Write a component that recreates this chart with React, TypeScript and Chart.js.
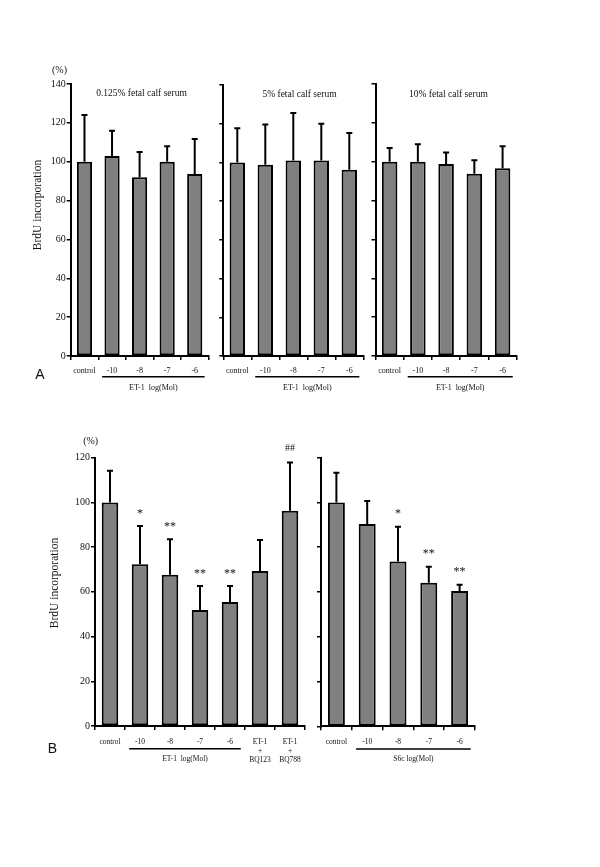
import React, { useEffect, useRef } from "react";
import { Chart, registerables } from "chart.js";

Chart.register(...registerables);

const SERIF = "'Liberation Serif', 'Times New Roman', serif";
const SANS = "'Liberation Sans', Arial, sans-serif";

// ---------- Panel A data ----------
const catsA = ["control", "-10", "-8", "-7", "-6"];
const meanA125 = [100, 103, 92, 100, 93.7];
const sdA125 = [24, 13, 13, 8, 18];
const meanA5 = [100, 98.8, 101, 101, 96.2];
const sdA5 = [17.7, 20.8, 24.5, 19, 19];
const meanA10 = [100, 100, 98.8, 93.8, 96.6];
const sdA10 = [7, 9, 6, 6.9, 11.3];
const yMaxA = 140;
const yStepA = 20;
const titleA125 = "0.125% fetal calf serum";
const titleA5 = "5% fetal calf serum";
const titleA10 = "10% fetal calf serum";
const groupA = "ET-1  log(Mol)";

// ---------- Panel B data ----------
const catsBLeft = ["control", "-10", "-8", "-7", "-6", ["ET-1", "+", "BQ123"], ["ET-1", "+", "BQ788"]];
const meanBLeft = [100, 72.4, 67.7, 51.9, 55.5, 69.3, 96.3];
const sdBLeft = [14.2, 17, 15.8, 10.7, 7.1, 13.9, 21.6];
const marksBLeft = ["", "*", "**", "**", "**", "", "##"];
const catsBRight = ["control", "-10", "-8", "-7", "-6"];
const meanBRight = [100, 90.4, 73.6, 64.1, 60.5];
const sdBRight = [13.3, 10.3, 15.5, 7.2, 2.7];
const marksBRight = ["", "", "*", "**", "**"];
const yMaxB = 120;
const yStepB = 20;
const groupBLeft = "ET-1  log(Mol)";
const groupBRight = "S6c log(Mol)";
const yTitle = "BrdU incorporation";
const unitLabel = "(%)";

type Txt = { text: string; x: number; y: number; size: number; family?: string; rotate?: boolean };

type Spec = {
  key: string;
  box: [number, number, number, number];
  area: [number, number, number, number];
  labels: (string | string[])[];
  means: number[];
  sds: number[];
  marks?: string[];
  yMax: number;
  yStep: number;
  yLabels: boolean;
  tickSize: number;
  tickPad: number;
  tickLineHeight: number;
  group: { from: number; to: number; text: string; lineDy: number; textDy: number; size: number };
  texts: Txt[];
};

function drawCentered(ctx: CanvasRenderingContext2D, t: Txt) {
  ctx.save();
  ctx.font = `${t.size}px ${t.family || SERIF}`;
  ctx.fillStyle = "#111";
  ctx.textAlign = "center";
  ctx.textBaseline = "alphabetic";
  const m = ctx.measureText(t.text);
  const off = (m.actualBoundingBoxAscent - m.actualBoundingBoxDescent) / 2;
  ctx.translate(t.x, t.y);
  if (t.rotate) ctx.rotate(-Math.PI / 2);
  ctx.fillText(t.text, 0, off);
  ctx.restore();
}

const overlay = {
  id: "overlay",
  afterDatasetsDraw(chart: any, _args: any, opts: any) {
    const spec: Spec = opts.spec;
    const ctx: CanvasRenderingContext2D = chart.ctx;
    const xs = chart.scales.x;
    const ys = chart.scales.y;
    const meta = chart.getDatasetMeta(0);
    ctx.save();
    ctx.strokeStyle = "#000";
    ctx.lineWidth = 2;
    spec.means.forEach((m, i) => {
      const x = meta.data[i].x;
      const yb = ys.getPixelForValue(m);
      const yt = ys.getPixelForValue(m + spec.sds[i]);
      ctx.beginPath();
      ctx.moveTo(x, yb);
      ctx.lineTo(x, yt);
      ctx.moveTo(x - 3, yt);
      ctx.lineTo(x + 3, yt);
      ctx.stroke();
      const mk = spec.marks ? spec.marks[i] : "";
      if (mk) {
        drawCentered(ctx, { text: mk, x, y: yt - 15, size: mk === "##" ? 10 : 12 });
      }
    });
    // group line + label
    const g = spec.group;
    const cw = xs.getPixelForValue(1) - xs.getPixelForValue(0);
    const x1 = xs.getPixelForValue(g.from) - 0.36 * cw;
    const x2 = xs.getPixelForValue(g.to) + 0.36 * cw;
    const base = chart.chartArea.bottom;
    ctx.lineWidth = 1.5;
    ctx.beginPath();
    ctx.moveTo(x1, base + g.lineDy);
    ctx.lineTo(x2, base + g.lineDy);
    ctx.stroke();
    drawCentered(ctx, { text: g.text, x: (x1 + x2) / 2, y: base + g.textDy, size: g.size });
    // free texts in page coordinates
    ctx.translate(-spec.box[0], -spec.box[1]);
    spec.texts.forEach((t) => drawCentered(ctx, t));
    ctx.restore();
  },
};

function BarPanel({ spec }: { spec: Spec }) {
  const ref = useRef<HTMLCanvasElement>(null);
  const [L, T, W, H] = spec.box;
  useEffect(() => {
    const [aL, aT, aR, aB] = spec.area;
    const axisGrid = {
      drawOnChartArea: false,
      drawTicks: true,
      tickLength: 4,
      color: "#000",
      lineWidth: 1.5,
    };
    const chart = new Chart(ref.current as HTMLCanvasElement, {
      type: "bar",
      data: {
        labels: spec.labels as any,
        datasets: [
          {
            data: spec.means,
            backgroundColor: "#808080",
            borderColor: "#000",
            borderWidth: 2,
            borderSkipped: false,
            barPercentage: 0.55,
            categoryPercentage: 1,
          },
        ],
      },
      options: {
        animation: false,
        responsive: false,
        maintainAspectRatio: false,
        devicePixelRatio: 1,
        layout: { padding: { left: 0, top: aT - T, right: L + W - aR, bottom: 0 } },
        plugins: {
          legend: { display: false },
          tooltip: { enabled: false },
          overlay: { spec },
        } as any,
        scales: {
          x: {
            type: "category",
            offset: true,
            grid: { ...axisGrid, offset: true },
            border: { display: true, color: "#000", width: 2 },
            ticks: {
              color: "#111",
              font: { family: SERIF, size: spec.tickSize, lineHeight: spec.tickLineHeight },
              padding: spec.tickPad,
              maxRotation: 0,
              minRotation: 0,
              autoSkip: false,
            },
            afterFit: (s: any) => {
              s.height = T + H - aB;
            },
          },
          y: {
            min: 0,
            max: spec.yMax,
            grid: axisGrid,
            border: { display: true, color: "#000", width: 2 },
            ticks: {
              stepSize: spec.yStep,
              color: "#111",
              font: { family: SERIF, size: 10 },
              padding: 1,
              callback: (v: any) => (spec.yLabels ? String(v) : ""),
            },
            afterFit: (s: any) => {
              s.width = aL - L;
            },
          },
        },
      } as any,
      plugins: [overlay as any],
    });
    return () => chart.destroy();
  }, []);
  return (
    <canvas
      ref={ref}
      width={W}
      height={H}
      style={{ position: "absolute", left: L, top: T, width: W, height: H }}
    />
  );
}

const groupStyleA = { lineDy: 20.7, textDy: 31.5, size: 8 };
const groupStyleB = { lineDy: 22.8, textDy: 33, size: 7.5 };

const specs: Spec[] = [
  {
    key: "a125",
    box: [0, 55, 218, 350],
    area: [70.7, 84, 208.5, 356],
    labels: catsA,
    means: meanA125,
    sds: sdA125,
    yMax: yMaxA,
    yStep: yStepA,
    yLabels: true,
    tickSize: 8,
    tickPad: 6,
    tickLineHeight: 1.2,
    group: { from: 1, to: 4, text: groupA, ...groupStyleA },
    texts: [
      { text: unitLabel, x: 59.5, y: 70, size: 10 },
      { text: yTitle, x: 38, y: 205, size: 11.5, rotate: true },
      { text: titleA125, x: 141.5, y: 92, size: 9.5 },
      { text: "A", x: 40, y: 374, size: 14, family: SANS },
    ],
  },
  {
    key: "a5",
    box: [213, 55, 160, 350],
    area: [223.3, 85, 363.3, 356],
    labels: catsA,
    means: meanA5,
    sds: sdA5,
    yMax: yMaxA,
    yStep: yStepA,
    yLabels: false,
    tickSize: 8,
    tickPad: 6,
    tickLineHeight: 1.2,
    group: { from: 1, to: 4, text: groupA, ...groupStyleA },
    texts: [{ text: titleA5, x: 299.5, y: 93, size: 9.5 }],
  },
  {
    key: "a10",
    box: [365, 55, 165, 350],
    area: [375.5, 84, 516.7, 356],
    labels: catsA,
    means: meanA10,
    sds: sdA10,
    yMax: yMaxA,
    yStep: yStepA,
    yLabels: false,
    tickSize: 8,
    tickPad: 6,
    tickLineHeight: 1.2,
    group: { from: 1, to: 4, text: groupA, ...groupStyleA },
    texts: [{ text: titleA10, x: 448.4, y: 93, size: 9.5 }],
  },
  {
    key: "bl",
    box: [0, 430, 312, 345],
    area: [95, 457.7, 305, 726],
    labels: catsBLeft,
    means: meanBLeft,
    sds: sdBLeft,
    marks: marksBLeft,
    yMax: yMaxB,
    yStep: yStepB,
    yLabels: true,
    tickSize: 7.5,
    tickPad: 7,
    tickLineHeight: 1.25,
    group: { from: 1, to: 4, text: groupBLeft, ...groupStyleB },
    texts: [
      { text: unitLabel, x: 90.7, y: 441, size: 10 },
      { text: yTitle, x: 55, y: 583, size: 11.5, rotate: true },
      { text: "B", x: 52.5, y: 748, size: 14, family: SANS },
    ],
  },
  {
    key: "br",
    box: [312, 430, 180, 345],
    area: [321, 457.7, 475, 726.3],
    labels: catsBRight,
    means: meanBRight,
    sds: sdBRight,
    marks: marksBRight,
    yMax: yMaxB,
    yStep: yStepB,
    yLabels: false,
    tickSize: 7.5,
    tickPad: 7,
    tickLineHeight: 1.25,
    group: { from: 1, to: 4, text: groupBRight, ...groupStyleB },
    texts: [],
  },
];

export default function App() {
  return (
    <div style={{ position: "absolute", left: 0, top: 0, width: 600, height: 867, background: "#fff" }}>
      {specs.map((s) => (
        <BarPanel key={s.key} spec={s} />
      ))}
    </div>
  );
}
